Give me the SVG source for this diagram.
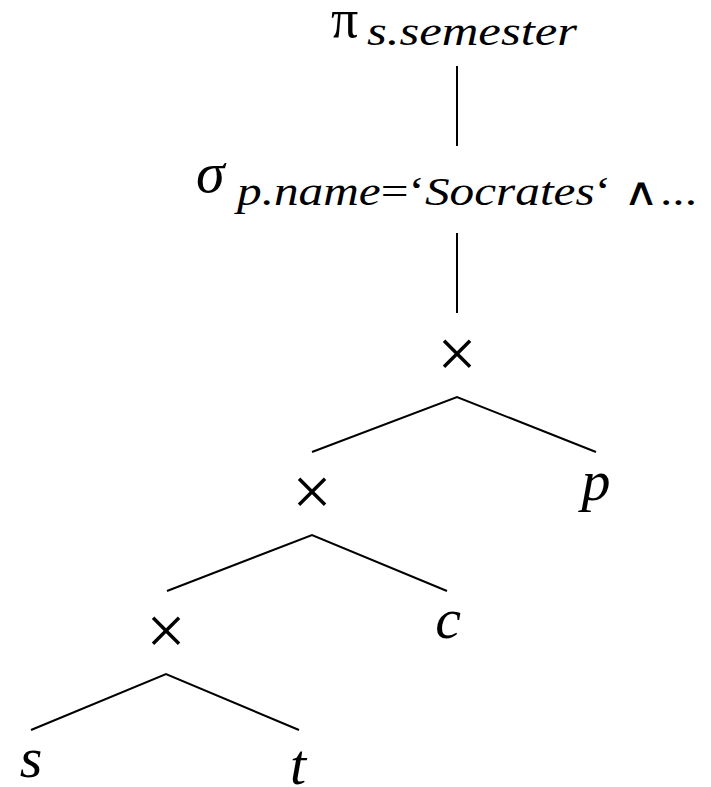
<svg xmlns="http://www.w3.org/2000/svg" width="711" height="787" viewBox="0 0 711 787">
<defs>
<style>
text{font-family:'Liberation Serif',serif;fill:#000}
.i{font-style:italic}
.x{font-size:70px;text-anchor:middle}
.v{font-style:italic;font-size:58px;text-anchor:middle}
.e{stroke:#000;stroke-width:2;fill:none}
</style>
</defs>
<rect width="711" height="787" fill="#fff"/>
<g id="connectors">
<line class="e" x1="457" y1="66" x2="457" y2="146"/>
<line class="e" x1="457" y1="233" x2="457" y2="313"/>
<polyline class="e" points="312,452 457,397 596,452"/>
<polyline class="e" points="167,591 312,535 447,591"/>
<polyline class="e" points="31,730 166,674 299,730"/>
</g>
<g id="n-pi">
<text x="331" y="37" font-size="54">π</text>
<text class="i" x="367" y="45" font-size="39" textLength="210" lengthAdjust="spacingAndGlyphs">s.semester</text>
</g>
<g id="n-sigma">
<text class="i" x="196" y="192" font-size="58">σ</text>
<text x="237" y="205" font-size="39" textLength="460" lengthAdjust="spacingAndGlyphs"><tspan class="i">p.name</tspan>=‘<tspan class="i">Socrates</tspan>‘ ∧...</text>
</g>
<g id="n-x1"><text class="x" x="457" y="377">×</text></g>
<g id="n-x2"><text class="x" x="312" y="515">×</text></g>
<g id="n-x3"><text class="x" x="166" y="654">×</text></g>
<g id="n-p"><text class="v" x="596" y="500">p</text></g>
<g id="n-c"><text class="v" x="448" y="638">c</text></g>
<g id="n-s"><text class="v" x="31" y="777">s</text></g>
<g id="n-t"><text class="v" x="298" y="784">t</text></g>
</svg>
